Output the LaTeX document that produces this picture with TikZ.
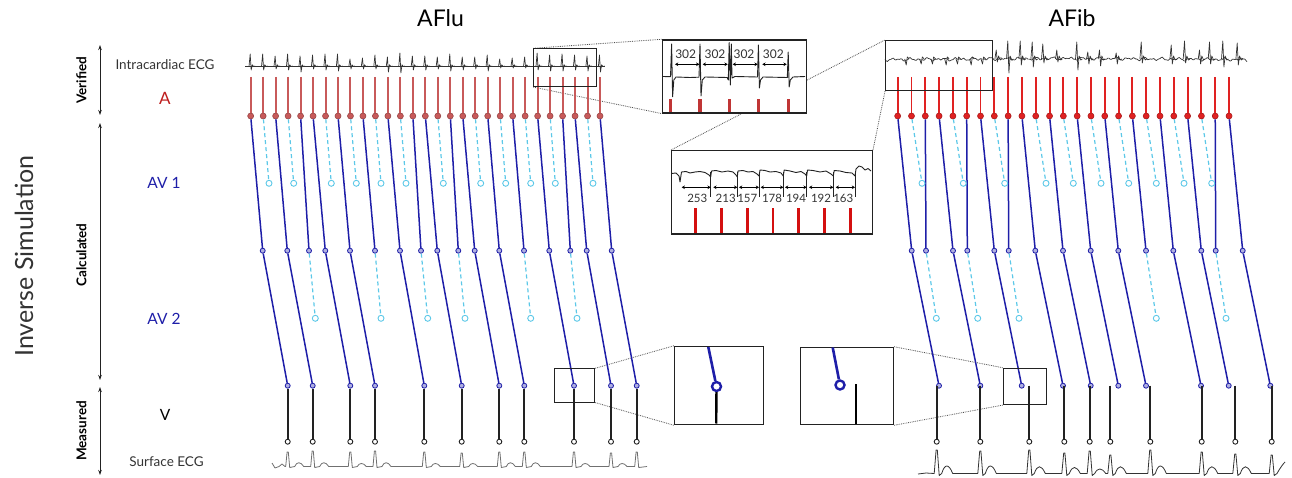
\documentclass[tikz,border=0pt]{standalone}
\usepackage{fontspec}
\setmainfont{Lato}
\usetikzlibrary{arrows.meta}
\pgfdeclarelayer{back}
\pgfsetlayers{back,main}
\definecolor{redA}{HTML}{C85A5A}
\definecolor{redB}{HTML}{E02222}
\definecolor{barA}{HTML}{C03535}
\definecolor{barB}{HTML}{D41010}
\definecolor{navy}{HTML}{1E1EA8}
\definecolor{sky}{HTML}{5CC8E8}
\definecolor{ink}{HTML}{222222}
\definecolor{ecgA}{HTML}{707070}
\definecolor{ecgB}{HTML}{333333}
\definecolor{txtc}{HTML}{333333}
\begin{document}
\begin{tikzpicture}[x=1pt,y=-1pt,
  ra/.style={circle,inner sep=0pt,minimum size=6pt,draw=redA!75!black,fill=redA,line width=0.6pt},
  rb/.style={circle,inner sep=0pt,minimum size=6pt,draw=redB!75!black,fill=redB,line width=0.6pt},
  bc/.style={circle,inner sep=0pt,minimum size=5pt,draw=navy,fill=navy!35,line width=0.8pt},
  lc/.style={circle,inner sep=0pt,minimum size=6pt,draw=sky,fill=white,line width=0.9pt},
  kc/.style={circle,inner sep=0pt,minimum size=5pt,draw=ink,fill=white,line width=0.9pt},
  rlA/.style={draw=redA,line width=2pt},
  rlB/.style={draw=redB,line width=1.9pt},
  bl/.style={draw=navy,line width=1.5pt},
  dl/.style={draw=sky,line width=1.2pt,dash pattern=on 4pt off 3pt},
  kl/.style={draw=ink,line width=2pt},
  ecgline/.style={draw=ecgB,line width=0.7pt,line join=round},
  surfA/.style={draw=ecgA,line width=0.8pt,line join=round},
  surfB/.style={draw=ecgB,line width=0.8pt,line join=round},
  zbox/.style={draw=ink,line width=1.1pt,inner sep=0pt,anchor=north west},
  insetbox/.style={draw=ink,fill=white,line width=1.3pt,inner sep=0pt,anchor=north west},
  dotl/.style={draw=ink!80,line width=0.8pt,densely dotted},
  dimarr/.style={draw=black,line width=1.1pt,{Stealth[length=3.2pt,width=3.6pt]}-{Stealth[length=3.2pt,width=3.6pt]}},
  sidearr/.style={draw=ink,line width=0.8pt,{Stealth[length=5pt,width=3.5pt]}-{Stealth[length=5pt,width=3.5pt]}},
  numl/.style={inner sep=0pt,font=\fontsize{11.5}{13}\selectfont,text=txtc},
  rowl/.style={inner sep=0pt,font=\fontsize{15.5}{18}\selectfont},
  smalll/.style={inner sep=0pt,font=\fontsize{13.5}{16}\selectfont,text=txtc},
  sidel/.style={inner sep=0pt,rotate=90,font=\bfseries\fontsize{13.5}{16}\selectfont,text=black}
]
\useasboundingbox (0,0) rectangle (1292,478);

% ---------------- titles and left labels ----------------
\node[inner sep=0pt,font=\fontsize{23}{27}\selectfont,text=black] (tAFlu) at (440.5,18) {AFlu};
\node[inner sep=0pt,font=\fontsize{23}{27}\selectfont,text=black] (tAFib) at (1072,18) {AFib};
\node[inner sep=0pt,rotate=90,font=\fontsize{25}{30}\selectfont,text=txtc] (tInv) at (24,256) {Inverse Simulation};

\node[sidel] (sVer) at (81.5,80.5) {Verified};
\node[sidel] (sCal) at (81.5,255) {Calculated};
\node[sidel] (sMea) at (81.5,431) {Measured};
\coordinate (va1) at (100,45); \coordinate (va2) at (100,115);
\coordinate (vb1) at (100,123); \coordinate (vb2) at (100,380);
\coordinate (vc1) at (100,387); \coordinate (vc2) at (100,475);
\draw[sidearr] (va1) -- (va2);
\draw[sidearr] (vb1) -- (vb2);
\draw[sidearr] (vc1) -- (vc2);

\node[smalll] (lIECG) at (165,65) {Intracardiac ECG};
\node[rowl,text=redB!85!black,font=\fontsize{17}{20}\selectfont] (lA) at (165,98) {A};
\node[rowl,text=navy] (lAV1) at (164,183) {AV 1};
\node[rowl,text=navy] (lAV2) at (164,319) {AV 2};
\node[rowl,text=black] (lV) at (165,415) {V};
\node[smalll] (lSECG) at (166.5,462) {Surface ECG};

% ---------------- AFlu intracardiac ECG ----------------
\draw[ecgline] (245,66) -- (605,66);
\foreach \i/\t/\b in {0/54/70,1/54/70,2/56/69,3/54/70,4/56/72,5/55/69,6/54/70,7/54/71,8/59/69,9/58/69,10/55/69,11/57/72,12/53/73,13/56/70,14/56/70,15/57/69,16/54/71,17/57/70,18/57/69,19/55/71,20/59/68,21/58/68,22/57/68,23/53/70,24/55/71,25/54/71,26/55/70,27/56/71,28/55/72}{
  \pgfmathsetmacro\xx{250.67+12.476*\i}
  \draw[ecgline] ({\xx-1.6},66) -- ({\xx-0.5},\t) -- ({\xx+0.5},\b) -- ({\xx+1.6},64.8) -- ({\xx+3},66.6) -- ({\xx+4.5},66);
}

% ---------------- AFlu A row ----------------
\foreach \i in {0,...,28}{
  \pgfmathsetmacro\xx{250.67+12.476*\i}
  \coordinate (fat\i) at (\xx,77);
  \node[ra] (fa\i) at (\xx,116) {};
  \draw[rlA] (fat\i) -- (fa\i);
}
% stage 1 solid
\foreach \i/\m/\k in {0/262.7/0,2/287.3/1,4/309/2,5/325.3/3,7/350/4,9/375/5,11/400/6,13/421/7,14/437.3/8,16/458.3/9,17/474.7/10,19/499.3/11,21/524/12,23/549.3/13,25/570.3/14,26/586.7/15,28/611.7/16}{
  \node[bc] (fm\k) at (\m,250.7) {};
  \draw[bl] (fa\i) -- (fm\k);
}
% stage 1 dashed
\foreach \i/\d in {1/269,3/293.7,6/331.3,8/356.3,10/381,12/406,15/443.3,18/480.7,20/505.7,22/530.7,24/555.3,27/593}{
  \node[lc] (fd\i) at (\d,183.3) {};
  \draw[dl] (fa\i) -- (fd\i);
}
% stage 2 solid
\foreach \k/\v in {0/287.7,1/312.7,3/350.3,4/375,6/424.3,8/461.7,10/499.3,11/524.3,13/574,15/611,16/636.7}{
  \node[bc] (fv\k) at (\v,385.7) {};
  \node[kc] (fb\k) at (\v,441.7) {};
  \draw[bl] (fm\k) -- (fv\k);
  \draw[kl] (fv\k) -- (fb\k);
}
% stage 2 dashed
\foreach \k/\d in {2/315.3,5/381,7/427.7,9/465,12/530.7,14/577}{
  \node[lc] (fe\k) at (\d,318.3) {};
  \draw[dl] (fm\k) -- (fe\k);
}

% ---------------- AFlu surface ECG ----------------
\draw[surfA] (272,463) -- (275,468) -- (279,466.5) -- (282,464) -- (285,466.5)
  \foreach \x/\t/\p in {287.7/5/452,312.7/5/451,350.3/4/452,375/5/451,424.3/4/452,461.7/4/453,499.3/5/452,524.3/5/452,574/4/452,611/4/453}{
   -- ({\x-2},466.5) -- ({\x-0.6},\p) -- ({\x+0.6},\p) -- ({\x+2},467.5) -- ({\x+7},466.5)
   .. controls ({\x+9},{466.5-\t}) and ({\x+13},{466.5-\t}) .. ({\x+16},466.5) }
  -- (634.7,466.5) -- (636.1,452) -- (637.3,452) -- (638.7,467.5) -- (647,466.5);

% ---------------- AFib intracardiac ECG ----------------
\draw[ecgline] plot[domain=0:362,samples=300] ({885+\x},{59+0.9*sin(\x*40)+0.7*sin(\x*23+30)+1.0*sin(\x*44)*sin(\x*43)});
\foreach \x/\b in {906.7/65,921.7/64,933/64,946.7/65,958/64,971.7/65,983/64}{
  \draw[ecgline] ({\x-2},59) -- ({\x-0.5},\b) -- ({\x+0.6},57) -- ({\x+2.5},59);
}
\foreach \x/\t/\b in {996.7/50/62,1008.3/41/73,1020.7/41/65,1032.7/42/67,1043.3/44/63,1057.3/50/62,1077.3/42/70,1088.3/52/64,1100/50/66,1116.7/53/64,1141.7/42/63,1171.7/45/64,1185/41/63,1200/50/64,1210/42/64,1223.3/41/67,1237.7/43/65}{
  \draw[ecgline] ({\x-1.8},59) -- ({\x-0.5},\t) -- ({\x+0.6},\b) -- ({\x+1.8},56) -- ({\x+3.5},60) -- ({\x+5},59);
}

% ---------------- AFib A row ----------------
\foreach \j in {0,...,24}{
  \pgfmathsetmacro\xx{897.67+13.806*\j}
  \coordinate (gat\j) at (\xx,77);
  \node[rb] (ga\j) at (\xx,116) {};
  \draw[rlB] (gat\j) -- (ga\j);
}
\foreach \j/\m/\k in {0/911.7/0,2/926/1,3/953/2,5/967.3/3,6/994.3/4,8/1008.7/5,9/1035.3/6,11/1063/7,13/1090.7/8,15/1118.3/9,17/1146/10,19/1173.3/11,21/1201.3/12,23/1215.7/13,24/1242.7/14}{
  \node[bc] (gm\k) at (\m,250.7) {};
  \draw[bl] (ga\j) -- (gm\k);
}
\foreach \j/\d in {1/922,4/963.3,7/1004.7,10/1046,12/1073.3,14/1101,16/1128.7,18/1156.3,20/1184,22/1211.7}{
  \node[lc] (gd\j) at (\d,183.3) {};
  \draw[dl] (ga\j) -- (gd\j);
}
\foreach \k/\v/\w in {0/939/936.7,2/980.3/980.3,4/1021.7/1029.3,6/1063/1064.3,7/1090.7/1089.7,8/1118.3/1110.3,9/1146/1150.3,11/1201/1201.7,12/1228.7/1235.3,14/1270.3/1271.7}{
  \node[bc] (gv\k) at (\v,385.7) {};
  \draw[bl] (gm\k) -- (gv\k);
  \coordinate (gbt\k) at (\w,385.7);
  \node[kc] (gb\k) at (\w,441.7) {};
  \draw[kl] (gbt\k) -- (gb\k);
}
\foreach \k/\d in {1/936.3,3/977.7,5/1019,10/1156.3,13/1226}{
  \node[lc] (ge\k) at (\d,318.3) {};
  \draw[dl] (gm\k) -- (ge\k);
}

% ---------------- AFib surface ECG ----------------
\draw[surfB] (918,474) -- (926,473)
  \foreach \x/\t/\p in {936.7/10/450,980.3/10/451,1029.3/9/450,1064.3/8/453,1089.7/6/451,1110.3/9/455,1150.3/10/450,1201.7/9/452,1235.3/9/454}{
   -- ({\x-2.5},473.5) -- ({\x-0.6},\p) -- ({\x+0.6},\p) -- ({\x+2.5},475.5) -- ({\x+5},473.5)
   .. controls ({\x+8},{473.5-\t}) and ({\x+12},{473.5-\t}) .. ({\x+16},473.5) }
  -- (1269.2,473.5) -- (1271.1,455) -- (1272.3,455) -- (1274.2,475.5) -- (1277,473.5)
  .. controls (1280,468) and (1283,464) .. (1285,462);

% ---------------- zoom boxes ----------------
\node[zbox,minimum width=62.7pt,minimum height=37.7pt] (box1) at (533.3,48.3) {};
\node[zbox,minimum width=106.7pt,minimum height=50pt] (box2) at (885,40) {};
\node[zbox,line width=0.9pt,minimum width=40pt,minimum height=33.4pt] (box3) at (554.3,368.3) {};
\node[zbox,minimum width=43pt,minimum height=36.3pt] (box4) at (1002.7,367.7) {};

% ---------------- insets ----------------
\node[insetbox,minimum width=144.3pt,minimum height=73pt] (ins1) at (661.7,39.3) {};
\node[insetbox,minimum width=200.7pt,minimum height=83.3pt] (ins2) at (671,150) {};
\node[insetbox,minimum width=88.7pt,minimum height=78.3pt] (ins3) at (674,345.7) {};
\node[insetbox,minimum width=92.7pt,minimum height=77.3pt] (ins4) at (800,346.7) {};

\begin{pgfonlayer}{back}
  \draw[dotl] (box1.north west) -- (ins1.north west);
  \draw[dotl] (box1.south west) -- (ins1.south west);
  \draw[dotl] (ins2.north west) -- (box2.north west);
  \draw[dotl] (box2.south west) -- (ins2.north east);
  \draw[dotl] (box3.north east) -- (ins3.north west);
  \draw[dotl] (box3.south east) -- (ins3.south west);
  \draw[dotl] (ins4.north east) -- (box4.north west);
  \draw[dotl] (ins4.south east) -- (box4.south west);
\end{pgfonlayer}

% inset 1 (AFlu intracardiac)
\draw[ink,line width=0.9pt,line join=round] (663,76.5) -- (670.5,76.7) -- (671.6,44) -- (672.6,96.7) -- (673.8,80) -- (676,77) -- (690,77.5) -- (699,77.2) -- (700,44) -- (701,96) -- (702.3,80) -- (705,77) -- (727,77.5) -- (728.3,80) -- (729.2,42.5) -- (730.3,85) -- (731.3,44) -- (732,78) -- (735,76.5) -- (757.5,77) -- (758.4,45) -- (759.4,88) -- (760.5,80) -- (763,77) -- (787.3,77.5) -- (788.2,52) -- (789.2,87) -- (790.3,80) -- (793,77) -- (805,76.5);
\foreach \x in {670.3,700,729.3,758.3,788.3}{
  \fill[barA] ({\x-1.7},99) rectangle ({\x+1.7},112.3);
}
\foreach \a/\b/\c [count=\n] in {675/699.3/685.7,702.7/727.7/715,732.7/757.7/744,762.3/786.7/773.3}{
  \coordinate (ia\n) at (\a,64.3); \coordinate (ib\n) at (\b,64.3);
  \draw[dimarr] (ia\n) -- (ib\n);
  \node[numl,font=\fontsize{12}{14}\selectfont] (il\n) at (\c,54) {302};
}

% inset 2 (AFib intracardiac)
\foreach \x [count=\n] in {710.7,737.3,759,783.3,806.7,833.3,855}{
  \coordinate (kt\n) at (\x,172); \coordinate (kb\n) at (\x,197);
  \draw[ink,line width=0.7pt] (kt\n) -- (kb\n);
}
\draw[ink,line width=0.9pt,line join=round] (671.5,173.5) -- (676,173) -- (679,176) -- (680,182) -- (681.5,172) -- (686,171.5) -- (690,173) -- (695,172) -- (700,171.5) -- (705,172.5) -- (709,175) -- (710.7,177) -- (711.5,171) -- (716,170.5) -- (722,172) -- (728,171) -- (733,172) -- (736,175) -- (737.3,177) -- (738,171) -- (743,170.5) -- (748,172) -- (753,171.5) -- (757,174) -- (759,176) -- (760,170) -- (765,170.5) -- (770,172) -- (776,171.5) -- (781,173) -- (783.3,176) -- (784.2,170) -- (790,171) -- (796,172.5) -- (801,171.5) -- (805,174) -- (806.7,176) -- (807.5,170) -- (813,170.5) -- (820,172) -- (826,171) -- (831,174) -- (833.3,176) -- (834.2,170.5) -- (840,171) -- (846,172.5) -- (852,173) -- (855,176) -- (856,169) -- (859,166) -- (862,167) -- (865,170) -- (868,168.5) -- (871,171);
\foreach \a/\b/\c/\v [count=\n] in {681.7/710.7/697.3/253,713.3/737.3/725.7/213,739/759/747.3/157,760.7/783.3/772/178,785/806.7/796/194,809/833.3/821/192,835.7/855/843.3/163}{
  \coordinate (ja\n) at (\a,187.3); \coordinate (jb\n) at (\b,187.3);
  \draw[dimarr] (ja\n) -- (jb\n);
  \node[numl] (jl\n) at (\c,198.5) {\v};
}
\foreach \x in {695.7,721.3,747.3,773,798.7,824.7,850.3}{
  \fill[barB] ({\x-1.3},208) rectangle ({\x+1.3},233.3);
}

% inset 3 (AFlu V detail)
\node[circle,inner sep=0pt,minimum size=9pt,draw=navy,fill=white,line width=2.4pt] (z3c) at (716.5,386.5) {};
\coordinate (z3t) at (708.3,347);
\coordinate (z3b) at (716.2,423.5);
\draw[navy,line width=2.6pt] (z3t) -- (z3c);
\draw[black,line width=2.4pt] (z3c) -- (z3b);

% inset 4 (AFib V detail)
\node[circle,inner sep=0pt,minimum size=9pt,draw=navy,fill=white,line width=2.4pt] (z4c) at (840,385) {};
\coordinate (z4t) at (832.7,347.5);
\coordinate (z4a) at (856,384.3);
\coordinate (z4b) at (856,423.5);
\draw[navy,line width=2.6pt] (z4t) -- (z4c);
\draw[black,line width=2.4pt] (z4a) -- (z4b);

\end{tikzpicture}
\end{document}
